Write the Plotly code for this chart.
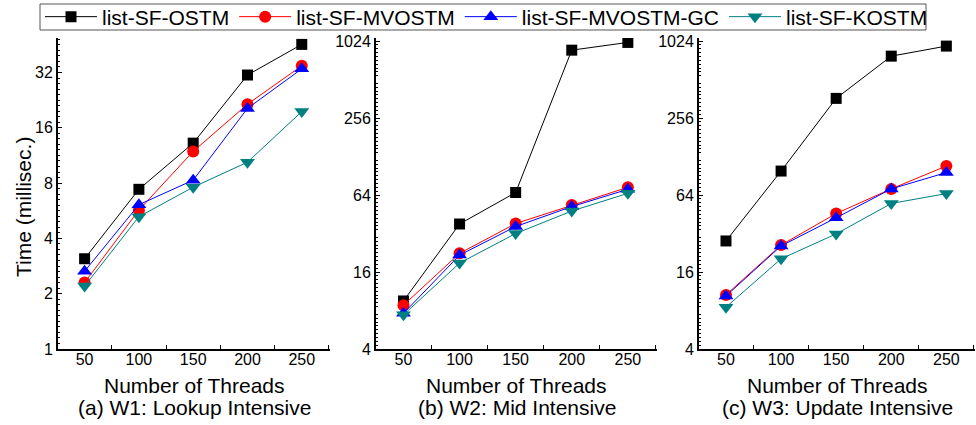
import plotly.graph_objects as go
import numpy as np

threads = [50, 100, 150, 200, 250]
series_names = ["list-SF-OSTM", "list-SF-MVOSTM", "list-SF-MVOSTM-GC", "list-SF-KOSTM"]

# W1: Lookup Intensive
w1_ostm = [3.1, 7.4, 13.2, 31.0, 45.5]
w1_mvostm = [2.3, 5.7, 11.9, 21.5, 34.8]
w1_mvostm_gc = [2.65, 6.1, 8.3, 20.4, 33.5]
w1_kostm = [2.2, 5.25, 7.6, 10.4, 19.6]

# W2: Mid Intensive
w2_ostm = [9.5, 38.0, 67.0, 870.0, 1000.0]
w2_mvostm = [8.8, 22.4, 38.3, 53.4, 73.6]
w2_mvostm_gc = [7.6, 21.7, 36.3, 52.0, 71.0]
w2_kostm = [7.4, 18.8, 32.0, 48.0, 66.0]

# W3: Update Intensive
w3_ostm = [28.0, 98.6, 365.0, 781.0, 936.0]
w3_mvostm = [10.6, 26.0, 45.9, 71.5, 108.0]
w3_mvostm_gc = [10.4, 25.6, 42.5, 71.5, 96.0]
w3_kostm = [8.5, 20.3, 31.8, 55.0, 65.7]

x_ticks = [50, 100, 150, 200, 250]
y1_ticks = [1, 2, 4, 8, 16, 32]
y23_ticks = [4, 16, 64, 256, 1024]
x_title = "Number of Threads"
y_title = "Time (millisec.)"
subtitles = ["(a) W1: Lookup Intensive", "(b) W2: Mid Intensive", "(c) W3: Update Intensive"]

panels = [
    [w1_ostm, w1_mvostm, w1_mvostm_gc, w1_kostm],
    [w2_ostm, w2_mvostm, w2_mvostm_gc, w2_kostm],
    [w3_ostm, w3_mvostm, w3_mvostm_gc, w3_kostm],
]

colors = ["#000000", "#ff0000", "#0000ff", "#008080"]
symbols = ["square", "circle", "triangle-up", "triangle-down"]
msizes = [11, 12, 13, 13]

W, H = 976, 425
FONT = "Liberation Sans, Arial, sans-serif"

x_dom = [(58, 330), (376, 657), (699, 975)]
y_top, y_bot = 38, 349

fig = go.Figure()
for p, data in enumerate(panels):
    for s, vals in enumerate(data):
        fig.add_trace(go.Scatter(
            x=threads, y=vals, name=series_names[s],
            mode="lines+markers",
            line=dict(color=colors[s], width=1),
            marker=dict(symbol=symbols[s], size=msizes[s], color=colors[s]),
            xaxis="x" if p == 0 else f"x{p+1}",
            yaxis="y" if p == 0 else f"y{p+1}",
            showlegend=(p == 0),
            legendgroup=series_names[s],
        ))

def minor_vals(lo, hi):
    out = []
    k = int(np.floor(np.log2(lo)))
    while 2 ** k <= hi:
        for j in range(1, 10):
            v = 2 ** (k + j / 10)
            if lo < v < hi:
                out.append(v)
        k += 1
    return out

layout = dict(
    width=W, height=H,
    margin=dict(l=0, r=0, t=0, b=0, autoexpand=False),
    paper_bgcolor="white", plot_bgcolor="white",
    font=dict(family=FONT, size=16, color="black"),
    showlegend=True,
    legend=dict(
        orientation="h", x=40 / W, y=1 - 17 / H, xanchor="left", yanchor="middle",
        borderwidth=0, bgcolor="rgba(0,0,0,0)",
        font=dict(family=FONT, size=21, color="black"),
        itemwidth=52, tracegroupgap=0,
    ),
    shapes=[dict(type="rect", xref="paper", yref="paper",
                 x0=40 / W, x1=926 / W, y0=1 - 30 / H, y1=1 - 4 / H,
                 line=dict(color="#555555", width=1), fillcolor="rgba(0,0,0,0)", layer="above")],
)

y_ranges = [
    [0, np.log10(49.3)],
    [np.log10(4), np.log10(1083)],
    [np.log10(4), np.log10(1083)],
]
y_tick_sets = [y1_ticks, y23_ticks, y23_ticks]
y_lo_hi = [(1, 49.3), (4, 1083), (4, 1083)]

annotations = []
for p in range(3):
    xk = "xaxis" if p == 0 else f"xaxis{p+1}"
    yk = "yaxis" if p == 0 else f"yaxis{p+1}"
    ya = "y" if p == 0 else f"y{p+1}"
    xa = "x" if p == 0 else f"x{p+1}"
    x0, x1 = x_dom[p]
    layout[xk] = dict(
        domain=[x0 / W, x1 / W], anchor=ya,
        range=[25.5, 276], tickvals=x_ticks, ticktext=[str(t) for t in x_ticks],
        ticks="", showgrid=False, zeroline=False,
        showline=True, linecolor="black", linewidth=2,
        tickfont=dict(size=16, family=FONT), ticklabelstandoff=-5,
        minor=dict(ticks="inside", tickvals=[25, 75, 125, 175, 225, 275], ticklen=4, tickcolor="black", showgrid=False),
    )
    lo, hi = y_lo_hi[p]
    layout[yk] = dict(
        domain=[1 - y_bot / H, 1 - y_top / H], anchor=xa,
        type="log", range=y_ranges[p],
        tickvals=y_tick_sets[p], ticktext=[str(t) for t in y_tick_sets[p]],
        ticks="inside", ticklen=4, tickcolor="black",
        showgrid=False, zeroline=False,
        showline=True, linecolor="black", linewidth=2,
        tickfont=dict(size=16, family=FONT), ticklabelstandoff=0,
        minor=dict(ticks="inside", tickvals=minor_vals(lo, hi), ticklen=2, tickcolor="black", showgrid=False),
    )
    cx = (x0 + x1) / 2 / W
    annotations.append(dict(text=x_title, x=cx, y=1 - 385 / H, xref="paper", yref="paper",
                            showarrow=False, xanchor="center", yanchor="middle",
                            font=dict(size=21, family=FONT, color="black")))
    annotations.append(dict(text=subtitles[p], x=cx, y=1 - 407 / H, xref="paper", yref="paper",
                            showarrow=False, xanchor="center", yanchor="middle",
                            font=dict(size=21, family=FONT, color="black")))

annotations.append(dict(text=y_title, x=23 / W, y=1 - 207 / H, xref="paper", yref="paper",
                        showarrow=False, xanchor="center", yanchor="middle", textangle=-90,
                        font=dict(size=21, family=FONT, color="black")))
layout["annotations"] = annotations

fig.update_layout(**layout)
fig.write_html("out.html", config={"displayModeBar": False},
               post_script="document.body.style.margin='0px';document.body.style.overflow='hidden';")
